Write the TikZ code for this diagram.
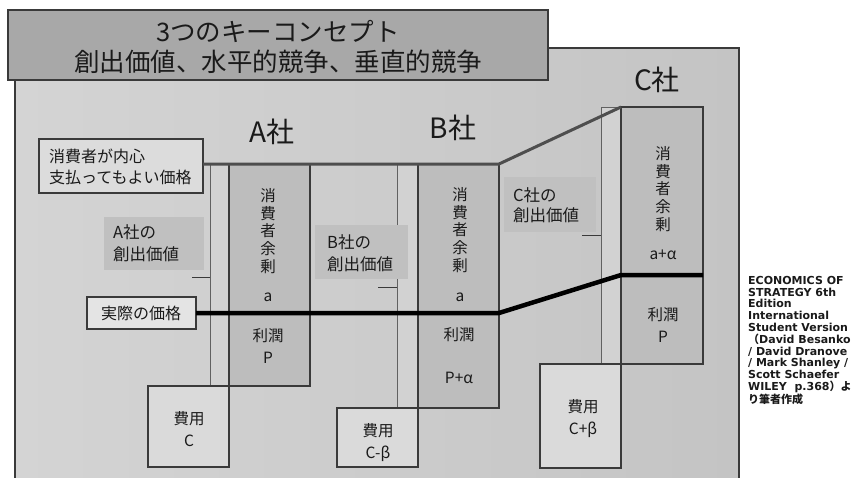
\documentclass[tikz,border=0pt]{standalone}
\usepackage{fontspec}
\setmainfont{Noto Sans CJK JP}
\newfontfamily\jpf{Noto Sans CJK JP}
\newfontfamily\reffont{DejaVu Sans}
\definecolor{panelL}{HTML}{D4D4D4}
\definecolor{panelR}{HTML}{C4C4C4}
\definecolor{edge}{HTML}{3A3A3A}
\definecolor{titlefill}{HTML}{A8A8A8}
\definecolor{surplusfill}{HTML}{BDBDBD}
\definecolor{costfill}{HTML}{DADADA}
\definecolor{stripfill}{HTML}{D2D2D2}
\definecolor{lblfill}{HTML}{C0C0C0}
\definecolor{wtpfill}{HTML}{DCDCDC}
\definecolor{pricefill}{HTML}{E4E4E4}
\definecolor{ink}{HTML}{1A1A1A}
\newcommand\mkbox[6]{\node[#6, minimum width={(#4-#2)*1pt}, minimum height={(#5-#3)*1pt}] (#1) at (#2,#3) {};}
\tikzset{
  boxbase/.style={inner sep=0pt, outer sep=0pt, anchor=north west},
  panelbox/.style={boxbase, draw=edge, line width=1.5pt, left color=panelL, right color=panelR},
  titlebox/.style={boxbase, draw=edge, line width=2pt, fill=titlefill},
  stripbox/.style={boxbase, draw=edge!80, line width=0.8pt, fill=stripfill},
  surplusbox/.style={boxbase, draw=edge, line width=1.6pt, fill=surplusfill},
  costbox/.style={boxbase, draw=edge, line width=1.6pt, fill=costfill},
  lblbox/.style={boxbase, fill=lblfill},
  wtpbox/.style={boxbase, draw=edge, line width=1.5pt, fill=wtpfill},
  pricebox/.style={boxbase, draw=edge, line width=1.5pt, fill=pricefill},
  txt/.style={inner sep=0pt, text=ink, font=\fontsize{15.5}{22}\selectfont, align=center},
  vtxt/.style={inner sep=0pt, text=ink, font=\fontsize{15.5}{17.6}\selectfont, align=center},
  lbltxt/.style={inner sep=0pt, text=ink, font=\fontsize{16.5}{22}\selectfont, align=left, anchor=west},
  company/.style={inner sep=0pt, text=ink, font=\fontsize{28}{32}\selectfont},
  tick/.style={draw=edge, line width=0.8pt},
  wtpline/.style={draw=edge!90, line width=3pt},
  priceline/.style={draw=black, line width=4.5pt},
  reftext/.style={inner sep=0pt, text=ink, align=left, font=\reffont\bfseries\fontsize{11}{11.8}\selectfont}
}
\begin{document}
\begin{tikzpicture}[x=1pt,y=-1pt]
\useasboundingbox[fill=white] (0,0) rectangle (856,477);
% panel and title
\mkbox{panel}{15}{48}{739}{495}{panelbox}
\mkbox{title}{8}{10}{548}{80}{titlebox}
\node[inner sep=0pt, text=ink, align=center, font=\fontsize{25.5}{30}\selectfont] (titletext) at (278,47) {3つのキーコンセプト\\創出価値、水平的競争、垂直的競争};
% company labels
\node[company] (aName) at (272,132) {A社};
\node[company] (bName) at (453,128) {B社};
\node[company] (cName) at (657,80) {C社};
% value-creation strips
\mkbox{aS}{210}{164}{229}{386}{stripbox}
\mkbox{bS}{397}{164}{418}{408}{stripbox}
\mkbox{cS}{601}{107}{621}{364}{stripbox}
% value creation labels
\mkbox{aL}{104}{217}{204}{270}{lblbox}
\mkbox{bL}{315}{225}{408}{279}{lblbox}
\mkbox{cL}{504}{177}{596}{232}{lblbox}
\node[lbltxt] (aLt) at (113,243) {A社の\\創出価値};
\node[lbltxt] (bLt) at (327,253) {B社の\\創出価値};
\node[lbltxt, font=\fontsize{16.5}{20.5}\selectfont] (cLt) at (513,205) {C社の\\創出価値};
\coordinate (aT) at (192,277);
\coordinate (bT) at (378,287);
\coordinate (cT) at (582,235);
\draw[tick] (aT) -- (aT -| aS.west);
\draw[tick] (bT) -- (bT -| bS.west);
\draw[tick] (cT) -- (cT -| cS.west);
% surplus and profit boxes
\mkbox{aCS}{229}{164}{310}{313}{surplusbox}
\mkbox{aP}{229}{313}{310}{386}{surplusbox}
\mkbox{bCS}{418}{164}{499}{313}{surplusbox}
\mkbox{bP}{418}{313}{499}{408}{surplusbox}
\mkbox{cCS}{621}{107}{703}{275}{surplusbox}
\mkbox{cP}{621}{275}{703}{364}{surplusbox}
% cost boxes
\mkbox{aC}{148}{386}{229}{467}{costbox}
\mkbox{bC}{337}{408}{418}{467}{costbox}
\mkbox{cC}{540}{364}{621}{468}{costbox}
% willingness-to-pay and price boxes
\mkbox{wtp}{39}{139}{203}{193}{wtpbox}
\node[lbltxt, font=\fontsize{16}{21}\selectfont] (wtpt) at (49,167) {消費者が内心\\支払ってもよい価格};
\mkbox{price}{87}{297}{196}{329}{pricebox}
\node[txt, font=\fontsize{16}{21}\selectfont] (pricet) at (141,313) {実際の価格};
% lines
\draw[wtpline] (wtp.east |- aCS.north) -- (bCS.north east) -- (cCS.north west);
\draw[priceline] (price.east) -- (bCS.south east) -- (cCS.south west) -- (cCS.south east);
% box texts
\node[vtxt] (aCSt) at (268,231) {消\\費\\者\\余\\剰};
\node[txt] (aCSa) at (268,297) {a};
\node[txt] (aPt) at (268,346) {利潤\\P};
\node[vtxt] (bCSt) at (460,230) {消\\費\\者\\余\\剰};
\node[txt] (bCSa) at (460,297) {a};
\node[txt] (bPt) at (459,335) {利潤};
\node[txt] (bPv) at (459,378) {P+α};
\node[vtxt] (cCSt) at (663,189) {消\\費\\者\\余\\剰};
\node[txt] (cCSa) at (663,255) {a+α};
\node[txt] (cPt) at (663,325) {利潤\\P};
\node[txt] (aCt) at (189,429) {費用\\C};
\node[txt] (bCt) at (378,443) {費用\\C-β};
\node[txt] (cCt) at (583,419) {費用\\C+β};
% reference
\node[reftext, anchor=north west] (ref) at (748,276) {ECONOMICS OF\\STRATEGY 6th\\Edition\\International\\Student Version\\{\jpf （}David Besanko\\/ David Dranove\\/ Mark Shanley /\\Scott Schaefer\\WILEY\ \ p.368{\jpf ）よ}\\{\jpf り筆者作成}};
\end{tikzpicture}
\end{document}
